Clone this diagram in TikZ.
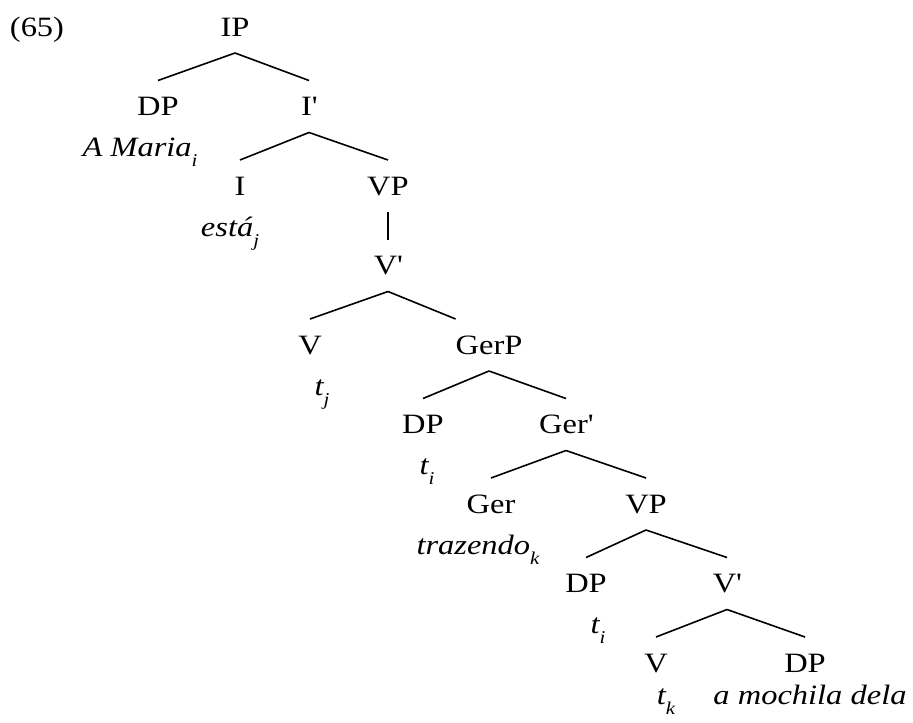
\documentclass[tikz,border=0pt]{standalone}
\usepackage{fontspec}
\setmainfont[FakeStretch=1.16]{Liberation Serif}
\usetikzlibrary{positioning}
\newcommand{\tsub}[1]{\raisebox{-5pt}{\fontsize{9}{9}\selectfont\itshape #1}}
\newcommand{\barmark}{\textquotesingle}

\begin{document}
\begin{tikzpicture}[
  x=0.5pt, y=-0.5pt,
  cat/.style={inner sep=0pt, outer xsep=0pt, outer ysep=8.4pt,
              text height=9.2pt, text depth=0pt,
              font=\fontsize{14}{16}\selectfont},
  word/.style={cat, on grid, font=\fontsize{14}{16}\selectfont\itshape},
  branch/.style={line width=0.8pt},
]
\useasboundingbox (0,0) rectangle (913,722);
\node[cat] (ex) at (37,27) {(65)};
% categories
\node[cat] (IP)    at (235,27)    {IP};
\node[cat] (DP1)   at (158,106.5) {DP};
\node[cat] (Ibar)  at (309,106.5) {I\barmark};
\node[cat] (I)     at (240,186)   {I};
\node[cat] (VP1)   at (388,186)   {VP};
\node[cat] (Vbar1) at (388,265.5) {V\barmark};
\node[cat] (V1)    at (310,345)   {V};
\node[cat] (GerP)  at (489,345)   {GerP};
\node[cat] (DP2)   at (423,424.5) {DP};
\node[cat] (Gerbar) at (566,424.5) {Ger\barmark};
\node[cat] (Ger)   at (491,504)   {Ger};
\node[cat] (VP2)   at (646,504)   {VP};
\node[cat] (DP3)   at (586,583.5) {DP};
\node[cat] (Vbar2) at (727,583.5) {V\barmark};
\node[cat] (V2)    at (656,663)   {V};
\node[cat] (DP4)   at (805,663)   {DP};
% words
\node[word, below=20.5pt of DP1, xshift=-9pt]  (maria)   {A Maria\tsub{i}};
\node[word, below=20.5pt of I, xshift=-5pt]    (esta)    {está\tsub{j}};
\node[word, below=20.5pt of V1, xshift=6pt]    (tj)      {t\tsub{j}};
\node[word, below=20.5pt of DP2, xshift=2pt]   (ti1)     {t\tsub{i}};
\node[word, below=20.5pt of Ger, xshift=-6.5pt] (trazendo) {trazendo\tsub{k}};
\node[word, below=20.5pt of DP3, xshift=6pt]   (ti2)     {t\tsub{i}};
\node[word, below=16pt of V2, xshift=5pt]      (tk)      {t\tsub{k}};
\node[word, below=16pt of DP4, xshift=2.5pt]   (mochila) {a mochila dela};
% branches
\draw[branch] (IP.south) -- (DP1.north);
\draw[branch] (IP.south) -- (Ibar.north);
\draw[branch] (Ibar.south) -- (I.north);
\draw[branch] (Ibar.south) -- (VP1.north);
\draw[branch] (VP1.south) -- (Vbar1.north);
\draw[branch] (Vbar1.south) -- (V1.north);
\draw[branch] (Vbar1.south) -- (GerP.north west);
\draw[branch] (GerP.south) -- (DP2.north);
\draw[branch] (GerP.south) -- (Gerbar.north);
\draw[branch] (Gerbar.south) -- (Ger.north);
\draw[branch] (Gerbar.south) -- (VP2.north);
\draw[branch] (VP2.south) -- (DP3.north);
\draw[branch] (VP2.south) -- (Vbar2.north);
\draw[branch] (Vbar2.south) -- (V2.north);
\draw[branch] (Vbar2.south) -- (DP4.north);
\end{tikzpicture}
\end{document}
